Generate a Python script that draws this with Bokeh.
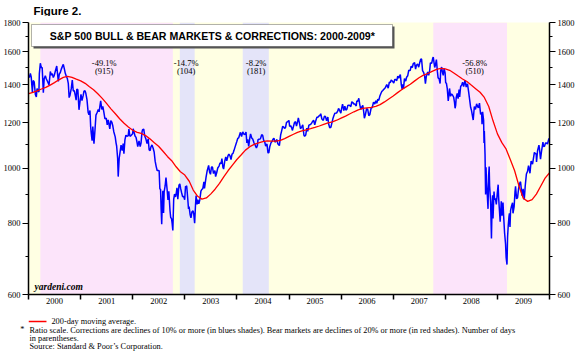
import pandas as pd
from bokeh.plotting import figure
from bokeh.layouts import column
from bokeh.models import (FixedTicker, LogAxis, LinearAxis, BoxAnnotation, Label, Range1d,
                          BasicTickFormatter, DatetimeTickFormatter, CustomJSTickFormatter)
from bokeh.core.properties import value
from bokeh.embed import file_html
from bokeh.resources import INLINE

# ---------------- data ----------------
spx_dates = [
 "2000-01-03","2000-01-07","2000-01-14","2000-01-20","2000-01-28","2000-02-03","2000-02-10","2000-02-18","2000-02-25","2000-03-01","2000-03-08","2000-03-14","2000-03-17","2000-03-24","2000-03-31","2000-04-06","2000-04-14","2000-04-20","2000-04-28","2000-05-05","2000-05-12","2000-05-24","2000-06-02","2000-06-09","2000-06-16","2000-06-23","2000-06-30","2000-07-07","2000-07-17","2000-07-28","2000-08-04","2000-08-11","2000-08-18","2000-08-25","2000-09-01","2000-09-08","2000-09-15","2000-09-22","2000-09-29","2000-10-06","2000-10-12","2000-10-18","2000-10-27","2000-11-03","2000-11-10","2000-11-17","2000-11-24","2000-11-30","2000-12-05","2000-12-12","2000-12-20","2000-12-29",
 "2001-01-03","2001-01-10","2001-01-19","2001-01-24","2001-01-31","2001-02-06","2001-02-14","2001-02-22","2001-02-28","2001-03-07","2001-03-12","2001-03-16","2001-03-22","2001-03-27","2001-04-04","2001-04-11","2001-04-18","2001-04-27","2001-05-04","2001-05-10","2001-05-21","2001-05-29","2001-06-05","2001-06-12","2001-06-20","2001-06-29","2001-07-06","2001-07-13","2001-07-24","2001-07-31","2001-08-07","2001-08-14","2001-08-21","2001-08-31","2001-09-06","2001-09-10","2001-09-17","2001-09-21","2001-09-28","2001-10-05","2001-10-11","2001-10-19","2001-10-26","2001-10-31","2001-11-07","2001-11-14","2001-11-21","2001-11-30","2001-12-05","2001-12-12","2001-12-20","2001-12-31",
 "2002-01-04","2002-01-10","2002-01-17","2002-01-24","2002-01-30","2002-02-05","2002-02-14","2002-02-22","2002-02-28","2002-03-07","2002-03-11","2002-03-19","2002-03-26","2002-04-03","2002-04-11","2002-04-19","2002-04-26","2002-05-03","2002-05-08","2002-05-16","2002-05-24","2002-05-31","2002-06-07","2002-06-14","2002-06-21","2002-06-28","2002-07-05","2002-07-10","2002-07-15","2002-07-19","2002-07-23","2002-07-26","2002-07-31","2002-08-05","2002-08-09","2002-08-16","2002-08-22","2002-08-30","2002-09-05","2002-09-11","2002-09-19","2002-09-24","2002-09-30","2002-10-04","2002-10-09","2002-10-15","2002-10-21","2002-10-28","2002-11-01","2002-11-07","2002-11-13","2002-11-21","2002-11-27","2002-12-03","2002-12-10","2002-12-17","2002-12-24","2002-12-31",
 "2003-01-06","2003-01-10","2003-01-14","2003-01-21","2003-01-27","2003-01-31","2003-02-07","2003-02-13","2003-02-20","2003-02-28","2003-03-05","2003-03-11","2003-03-17","2003-03-21","2003-03-28","2003-04-02","2003-04-09","2003-04-16","2003-04-24","2003-04-30","2003-05-07","2003-05-15","2003-05-19","2003-05-30","2003-06-06","2003-06-17","2003-06-24","2003-06-30","2003-07-07","2003-07-14","2003-07-21","2003-07-31","2003-08-05","2003-08-12","2003-08-20","2003-08-29","2003-09-05","2003-09-12","2003-09-18","2003-09-25","2003-09-30","2003-10-08","2003-10-15","2003-10-22","2003-10-31","2003-11-06","2003-11-14","2003-11-21","2003-11-28","2003-12-05","2003-12-12","2003-12-19","2003-12-31",
 "2004-01-07","2004-01-14","2004-01-22","2004-01-26","2004-02-03","2004-02-11","2004-02-19","2004-02-27","2004-03-05","2004-03-11","2004-03-17","2004-03-24","2004-03-31","2004-04-06","2004-04-14","2004-04-21","2004-04-30","2004-05-07","2004-05-17","2004-05-24","2004-05-28","2004-06-04","2004-06-14","2004-06-23","2004-06-30","2004-07-07","2004-07-14","2004-07-21","2004-07-30","2004-08-06","2004-08-12","2004-08-19","2004-08-27","2004-09-03","2004-09-10","2004-09-17","2004-09-24","2004-09-30","2004-10-08","2004-10-14","2004-10-25","2004-11-03","2004-11-10","2004-11-17","2004-11-24","2004-11-30","2004-12-07","2004-12-14","2004-12-21","2004-12-31",
 "2005-01-05","2005-01-12","2005-01-20","2005-01-24","2005-01-31","2005-02-08","2005-02-15","2005-02-22","2005-03-03","2005-03-07","2005-03-15","2005-03-22","2005-03-31","2005-04-07","2005-04-15","2005-04-20","2005-04-28","2005-05-05","2005-05-12","2005-05-20","2005-05-31","2005-06-07","2005-06-15","2005-06-22","2005-06-30","2005-07-08","2005-07-15","2005-07-22","2005-07-29","2005-08-04","2005-08-11","2005-08-19","2005-08-29","2005-09-06","2005-09-13","2005-09-21","2005-09-30","2005-10-05","2005-10-13","2005-10-21","2005-10-28","2005-11-04","2005-11-11","2005-11-18","2005-11-30","2005-12-07","2005-12-14","2005-12-21","2005-12-30",
 "2006-01-05","2006-01-11","2006-01-20","2006-01-27","2006-02-03","2006-02-10","2006-02-17","2006-02-24","2006-03-03","2006-03-10","2006-03-17","2006-03-24","2006-03-31","2006-04-07","2006-04-17","2006-04-21","2006-04-28","2006-05-05","2006-05-12","2006-05-19","2006-05-26","2006-06-02","2006-06-08","2006-06-13","2006-06-20","2006-06-29","2006-07-07","2006-07-14","2006-07-21","2006-07-31","2006-08-07","2006-08-16","2006-08-25","2006-09-01","2006-09-08","2006-09-15","2006-09-22","2006-09-29","2006-10-06","2006-10-13","2006-10-20","2006-10-31","2006-11-08","2006-11-17","2006-11-27","2006-12-05","2006-12-12","2006-12-18","2006-12-29",
 "2007-01-05","2007-01-12","2007-01-19","2007-01-26","2007-02-02","2007-02-09","2007-02-20","2007-02-27","2007-03-05","2007-03-09","2007-03-14","2007-03-21","2007-03-30","2007-04-05","2007-04-13","2007-04-20","2007-04-30","2007-05-07","2007-05-15","2007-05-22","2007-05-31","2007-06-07","2007-06-13","2007-06-21","2007-06-29","2007-07-06","2007-07-13","2007-07-19","2007-07-26","2007-08-02","2007-08-09","2007-08-15","2007-08-21","2007-08-31","2007-09-07","2007-09-14","2007-09-19","2007-09-28","2007-10-05","2007-10-09","2007-10-19","2007-10-24","2007-10-31","2007-11-07","2007-11-12","2007-11-19","2007-11-26","2007-11-30","2007-12-07","2007-12-11","2007-12-18","2007-12-24","2007-12-31",
 "2008-01-04","2008-01-09","2008-01-15","2008-01-22","2008-01-25","2008-01-31","2008-02-07","2008-02-14","2008-02-21","2008-02-29","2008-03-06","2008-03-10","2008-03-14","2008-03-18","2008-03-25","2008-03-31","2008-04-07","2008-04-11","2008-04-18","2008-04-25","2008-05-02","2008-05-09","2008-05-19","2008-05-27","2008-06-05","2008-06-13","2008-06-20","2008-06-27","2008-07-03","2008-07-15","2008-07-23","2008-07-31","2008-08-08","2008-08-13","2008-08-20","2008-08-28","2008-09-05","2008-09-12","2008-09-15","2008-09-19","2008-09-26","2008-09-29","2008-10-01","2008-10-06","2008-10-10","2008-10-13","2008-10-16","2008-10-22","2008-10-27","2008-10-31","2008-11-04","2008-11-07","2008-11-14","2008-11-20","2008-11-24","2008-11-28","2008-12-01","2008-12-08","2008-12-12","2008-12-18","2008-12-24","2008-12-31",
 "2009-01-06","2009-01-09","2009-01-15","2009-01-20","2009-01-23","2009-01-28","2009-02-02","2009-02-09","2009-02-13","2009-02-20","2009-02-27","2009-03-03","2009-03-09","2009-03-13","2009-03-18","2009-03-23","2009-03-26","2009-03-30","2009-04-03","2009-04-09","2009-04-17","2009-04-20","2009-04-28","2009-05-04","2009-05-08","2009-05-15","2009-05-22","2009-05-29","2009-06-05","2009-06-12","2009-06-22","2009-06-30","2009-07-08","2009-07-15","2009-07-23","2009-07-31","2009-08-07","2009-08-17","2009-08-25","2009-08-31","2009-09-04","2009-09-11","2009-09-17","2009-09-23","2009-09-30","2009-10-02","2009-10-09","2009-10-19","2009-10-23","2009-10-30","2009-11-06","2009-11-16","2009-11-20","2009-11-27","2009-12-04","2009-12-11","2009-12-18","2009-12-28","2009-12-31",
]
spx_values = [
 1455,1441,1465,1445,1360,1424,1416,1346,1333,1379,1366,1359,1464,1527,1499,1501,1356,1434,1452,1433,1421,1399,1477,1456,1464,1441,1455,1478,1510,1419,1462,1471,1491,1506,1520,1494,1466,1449,1436,1408,1329,1342,1379,1426,1365,1367,1341,1315,1376,1371,1265,1320,
 1347,1313,1342,1364,1366,1352,1318,1253,1240,1262,1180,1150,1117,1182,1103,1165,1238,1253,1266,1255,1312,1267,1283,1255,1219,1224,1190,1215,1171,1211,1204,1186,1158,1134,1106,1093,1039,966,1041,1071,1097,1073,1104,1060,1120,1142,1137,1139,1170,1137,1140,1148,
 1172,1156,1138,1132,1113,1090,1116,1090,1106,1157,1168,1170,1138,1125,1104,1125,1076,1073,1088,1098,1083,1067,1028,1007,990,990,989,920,917,847,797,852,912,834,908,930,962,916,879,910,843,819,815,800,777,881,900,890,900,923,882,933,938,920,904,890,892,880,
 929,927,931,887,848,856,829,818,838,841,829,800,862,895,863,880,865,879,911,917,920,946,921,964,987,1011,983,975,1004,1004,978,990,966,980,1000,1008,1021,1018,1039,1003,996,1028,1046,1030,1051,1058,1050,1035,1058,1061,1074,1088,1112,
 1127,1130,1147,1155,1136,1157,1147,1145,1156,1107,1123,1091,1126,1148,1129,1124,1107,1099,1084,1095,1121,1123,1125,1144,1141,1118,1112,1093,1102,1064,1063,1091,1107,1113,1123,1128,1110,1115,1122,1103,1095,1143,1162,1183,1181,1173,1177,1203,1205,1212,
 1183,1187,1175,1164,1181,1202,1206,1185,1210,1225,1198,1172,1181,1191,1142,1137,1143,1175,1160,1189,1192,1197,1207,1213,1191,1212,1228,1228,1234,1236,1245,1219,1212,1233,1232,1210,1229,1196,1177,1179,1199,1220,1235,1248,1249,1257,1272,1262,1248,
 1274,1294,1261,1284,1264,1267,1287,1289,1287,1281,1307,1303,1295,1295,1285,1311,1310,1325,1291,1267,1280,1288,1257,1223,1240,1272,1265,1236,1240,1277,1275,1305,1295,1312,1299,1320,1314,1336,1350,1362,1368,1378,1385,1401,1381,1414,1413,1427,1418,
 1409,1430,1430,1423,1449,1438,1459,1399,1374,1402,1377,1435,1421,1443,1452,1484,1482,1509,1501,1525,1530,1491,1515,1522,1503,1530,1552,1553,1482,1472,1453,1406,1447,1474,1454,1484,1529,1527,1557,1565,1501,1516,1549,1476,1439,1434,1407,1481,1504,1477,1454,1496,1468,
 1411,1409,1380,1311,1331,1379,1336,1349,1343,1331,1304,1273,1288,1330,1352,1323,1373,1332,1390,1398,1414,1389,1426,1387,1405,1360,1318,1278,1262,1214,1282,1267,1296,1285,1275,1300,1242,1252,1193,1255,1213,1106,1161,1057,899,1003,946,896,848,969,1006,931,873,752,852,896,816,909,880,885,863,903,
 935,890,843,805,832,874,825,870,827,770,735,696,677,756,795,823,833,788,842,856,869,833,856,907,929,883,887,919,940,946,894,919,880,932,976,987,1010,979,1029,1021,1016,1042,1065,1061,1057,1025,1071,1097,1079,1036,1069,1110,1091,1092,1106,1106,1102,1127,1115,
]

ma_dates = [
 "2000-01-03","2000-02-01","2000-03-01","2000-04-01","2000-05-01","2000-06-01","2000-07-01","2000-08-01","2000-09-01","2000-10-01","2000-11-01","2000-12-01",
 "2001-01-01","2001-02-01","2001-03-01","2001-04-01","2001-05-01","2001-06-01","2001-07-01","2001-08-01","2001-09-01","2001-10-01","2001-11-01","2001-12-01",
 "2002-01-01","2002-02-01","2002-03-01","2002-04-01","2002-05-01","2002-06-01","2002-07-01","2002-08-01","2002-09-01","2002-10-01","2002-11-01","2002-12-01",
 "2003-01-01","2003-02-01","2003-03-01","2003-04-01","2003-05-01","2003-06-01","2003-07-01","2003-08-01","2003-09-01","2003-10-01","2003-11-01","2003-12-01",
 "2004-01-01","2004-02-01","2004-03-01","2004-04-01","2004-05-01","2004-06-01","2004-07-01","2004-08-01","2004-09-01","2004-10-01","2004-11-01","2004-12-01",
 "2005-01-01","2005-02-01","2005-03-01","2005-04-01","2005-05-01","2005-06-01","2005-07-01","2005-08-01","2005-09-01","2005-10-01","2005-11-01","2005-12-01",
 "2006-01-01","2006-02-01","2006-03-01","2006-04-01","2006-05-01","2006-06-01","2006-07-01","2006-08-01","2006-09-01","2006-10-01","2006-11-01","2006-12-01",
 "2007-01-01","2007-02-01","2007-03-01","2007-04-01","2007-05-01","2007-06-01","2007-07-01","2007-08-01","2007-09-01","2007-10-01","2007-11-01","2007-12-01",
 "2008-01-01","2008-02-01","2008-03-01","2008-04-01","2008-05-01","2008-06-01","2008-07-01","2008-08-01","2008-09-01","2008-10-01","2008-11-01","2008-12-01",
 "2009-01-01","2009-02-01","2009-03-01","2009-04-01","2009-05-01","2009-06-01","2009-07-01","2009-08-01","2009-09-01","2009-10-01","2009-11-01","2009-12-01","2009-12-31",
]
ma_values = [
 1351,1358,1366,1376,1385,1398,1412,1428,1442,1448,1442,1432,
 1422,1408,1390,1372,1350,1325,1298,1270,1245,1220,1198,1180,
 1165,1155,1150,1140,1125,1108,1092,1070,1048,1030,1005,985,
 972,948,915,892,882,886,900,918,940,965,990,1012,
 1035,1055,1075,1090,1100,1107,1113,1116,1115,1115,1118,1126,
 1136,1146,1155,1162,1167,1172,1178,1185,1193,1200,1205,1213,
 1223,1233,1244,1255,1265,1272,1275,1278,1283,1292,1306,1322,
 1338,1356,1372,1388,1403,1422,1440,1455,1465,1478,1490,1495,
 1493,1484,1468,1450,1433,1418,1398,1378,1358,1330,1282,1210,
 1148,1108,1082,1035,990,930,885,874,880,900,930,960,980,
]

band_starts = ["2000-03-24", "2002-11-27", "2004-02-11", "2007-10-09"]
band_ends   = ["2002-10-09", "2003-03-11", "2004-08-12", "2009-03-09"]
band_kinds  = ["bear", "correction", "correction", "bear"]

ann_dates   = ["2001-06-15", "2003-01-10", "2004-05-15", "2008-07-25"]
ann_pct     = ["-49.1%", "-14.7%", "-8.2%", "-56.8%"]
ann_days    = ["(915)", "(104)", "(181)", "(510)"]

years        = list(range(2000, 2010))
y_ticks      = [600, 800, 1000, 1200, 1400, 1600, 1800]
y_minor      = [700, 900, 1100, 1300, 1500, 1700]

title_text  = "S&P 500 BULL & BEAR MARKETS & CORRECTIONS: 2000-2009*"
figure_text = "Figure 2."
legend_text = "200-day moving average."
note_lines  = ["Ratio scale. Corrections are declines of 10% or more (in blues shades). "
               "Bear markets are declines of 20% or more (in red shades). Number of days",
               "in parentheses.",
               "Source: Standard & Poor\u2019s Corporation."]

# ---------------- styles ----------------
YELLOW = "#FFFFE3"
PINK = "#FCE4FA"
BLUE = "#E4E4F9"
SERIF = "Liberation Serif"
SANS = "Liberation Sans"
NOTE_SIZE = "8.3px"
W = 580
FL, FR = 27, 549          # frame left / right (canvas px), shared by all strips


def blank_fig(h):
    # x data units equal canvas pixels, y data units = pixels from the strip's top
    f = figure(width=W, height=h, x_range=Range1d(FL, FR), y_range=Range1d(h, 0),
               output_backend="svg", toolbar_location=None,
               x_axis_location=None, y_axis_location=None,
               min_border_left=FL, min_border_right=W - FR,
               min_border_top=0, min_border_bottom=0, outline_line_color=None)
    f.xgrid.visible = False
    f.ygrid.visible = False
    f.background_fill_color = "white"
    f.border_fill_color = "white"
    return f


# ---------- top strip: "Figure 2." ----------
TOP_H = 16
top = blank_fig(TOP_H)
top.text(x=[32], y=[10], text=[figure_text], text_font=value(SANS),
         text_font_style="bold", text_font_size="11.5px", text_align="left",
         text_baseline="middle", text_color="black")

# ---------- main chart ----------
x0 = pd.Timestamp("2000-01-01")
x1 = pd.Timestamp("2010-01-01")
MAIN_H = 314 - TOP_H

p = figure(width=W, height=MAIN_H, x_axis_type="datetime", y_axis_type="log",
           x_range=Range1d(x0, x1), y_range=Range1d(600, 1800),
           output_backend="svg", toolbar_location=None,
           min_border_left=FL, min_border_right=W - FR, min_border_top=22 - TOP_H,
           min_border_bottom=20)
p.background_fill_color = YELLOW
p.border_fill_color = "white"
p.outline_line_color = None
p.xgrid.visible = False
p.ygrid.visible = False

for s, e, k in zip(band_starts, band_ends, band_kinds):
    p.add_layout(BoxAnnotation(left=pd.Timestamp(s), right=pd.Timestamp(e),
                               fill_color=PINK if k == "bear" else BLUE,
                               fill_alpha=1.0, line_color=None, level="underlay"))

p.line(pd.to_datetime(spx_dates), spx_values, line_color="#0000FF", line_width=1.5)
p.line(pd.to_datetime(ma_dates), ma_values, line_color="#FF0000", line_width=1.3)


def style_y(ax):
    ax.ticker = FixedTicker(ticks=y_ticks, minor_ticks=y_minor)
    ax.formatter = BasicTickFormatter(use_scientific=False)
    ax.axis_line_color = "black"
    ax.axis_line_width = 1.5
    ax.major_tick_out = 6
    ax.major_tick_in = 0
    ax.minor_tick_out = 3
    ax.minor_tick_in = 0
    ax.major_tick_line_color = "black"
    ax.minor_tick_line_color = "black"
    ax.major_label_text_font = SERIF
    ax.major_label_text_font_size = "8.5px"
    ax.major_label_text_color = "black"
    ax.major_label_standoff = 2


style_y(p.yaxis[0])
ry = LogAxis()
style_y(ry)
p.add_layout(ry, "right")

# x axis: year labels centred in each year, tick marks (minor) at year boundaries
year_bounds = [pd.Timestamp(f"{y}-01-01").timestamp() * 1000 for y in years + [2010]]
year_mids = [pd.Timestamp(f"{y}-07-02").timestamp() * 1000 for y in years]
xa = p.xaxis[0]
xa.ticker = FixedTicker(ticks=year_mids, minor_ticks=year_bounds)
xa.formatter = DatetimeTickFormatter(years="%Y", months="%Y", days="%Y", hours="%Y",
                                     minutes="%Y", seconds="%Y", milliseconds="%Y",
                                     microseconds="%Y")
xa.axis_line_color = "black"
xa.axis_line_width = 1.5
xa.major_tick_out = 0
xa.major_tick_in = 0
xa.minor_tick_out = 5
xa.minor_tick_in = 0
xa.minor_tick_line_width = 1.5
xa.minor_tick_line_color = "black"
xa.major_label_standoff = -2
xa.major_label_text_font = SERIF
xa.major_label_text_font_size = "8.5px"
xa.major_label_text_color = "black"

# annotations of declines
for d, pc, dy in zip(ann_dates, ann_pct, ann_days):
    for txt, yy in ((pc, 232), (dy, 224)):
        p.add_layout(Label(x=pd.Timestamp(d), y=yy, y_units="screen", text=txt,
                           text_align="center", text_baseline="middle",
                           text_font=SERIF, text_font_size="8.5px", text_color="black"))

# title box with shadow
p.add_layout(BoxAnnotation(left=5, right=366, top=268, bottom=246,
                           left_units="screen", right_units="screen",
                           top_units="screen", bottom_units="screen",
                           fill_color="#555555", fill_alpha=1, line_color=None))
p.add_layout(BoxAnnotation(left=3, right=364, top=270, bottom=248,
                           left_units="screen", right_units="screen",
                           top_units="screen", bottom_units="screen",
                           fill_color="white", fill_alpha=1, line_color="black",
                           line_width=1))
p.add_layout(Label(x=184, y=259, x_units="screen", y_units="screen",
                   text=title_text, text_align="center", text_baseline="middle",
                   text_font=SANS, text_font_style="bold", text_font_size="10.6px",
                   text_color="black"))

p.add_layout(Label(x=6, y=8, x_units="screen", y_units="screen", text="yardeni.com",
                   text_align="left", text_baseline="middle", text_font=SERIF,
                   text_font_style="bold italic", text_font_size="9.5px",
                   text_color="black"))

# ---------- bottom strip: legend and notes ----------
BOT_H = 354 - 314
bot = blank_fig(BOT_H)
bot.line(x=[FL, 45], y=[7, 7], line_color="#FF0000", line_width=1.3)
bot.text(x=[50], y=[7], text=[legend_text], text_font=value(SERIF),
         text_font_size=NOTE_SIZE, text_align="left", text_baseline="middle",
         text_color="black")
bot.text(x=[28, 28, 28], y=[16, 24, 32], text=note_lines, text_font=value(SERIF),
         text_font_size=NOTE_SIZE, text_align="left", text_baseline="middle",
         text_color="black")
# the footnote asterisk sits in the left margin: drawn as the label of a bare axis
star_axis = LinearAxis(ticker=FixedTicker(ticks=[15], minor_ticks=[]),
                       formatter=CustomJSTickFormatter(code="return '*'"))
star_axis.axis_line_color = None
star_axis.major_tick_line_color = None
star_axis.major_tick_out = 0
star_axis.major_tick_in = 0
star_axis.minor_tick_out = 0
star_axis.minor_tick_in = 0
star_axis.major_label_standoff = 4
star_axis.major_label_text_font = SERIF
star_axis.major_label_text_font_size = NOTE_SIZE
star_axis.major_label_text_color = "black"
bot.add_layout(star_axis, "left")

layout = column(top, p, bot, spacing=0)
open("out.html", "w").write(file_html(layout, INLINE))
